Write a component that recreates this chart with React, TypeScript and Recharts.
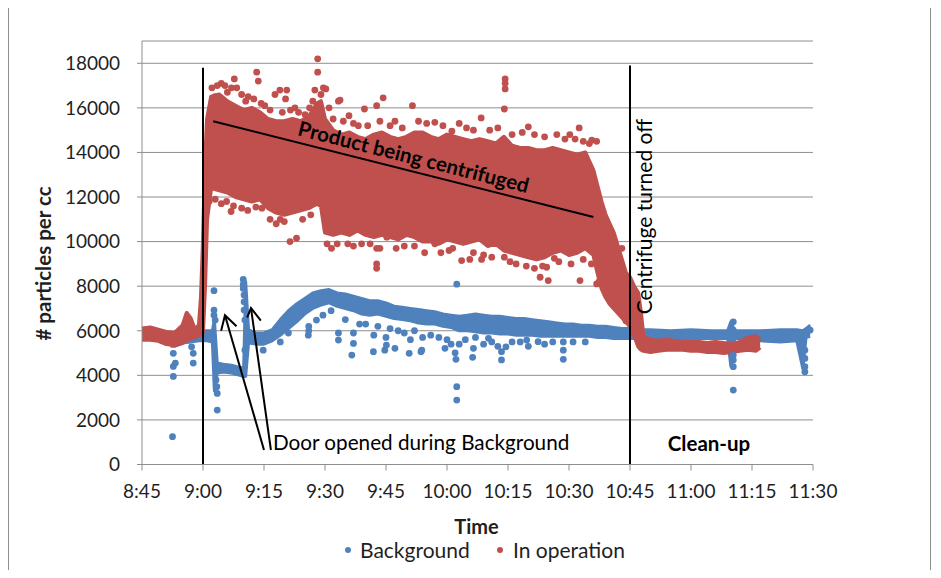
import React from "react";
import {
  ComposedChart,
  Area,
  Scatter,
  XAxis,
  YAxis,
  CartesianGrid,
  ReferenceLine,
  Legend
} from "recharts";

const FONT = "Lato, 'Open Sans', sans-serif";
const BLUE = "#4F81BD";
const RED = "#C0504D";
const GRID = "#8E8E8E";
const INK = "#1f1f1f";

// times are minutes after midnight (525 = 8:45, 690 = 11:30)
const timeTicks = [525, 540, 555, 570, 585, 600, 615, 630, 645, 660, 675, 690];
const countTicks = [0, 2000, 4000, 6000, 8000, 10000, 12000, 14000, 16000, 18000];

// "In operation": envelope holding the bulk of the readings
const opTimes = [
  525, 527, 529, 531, 533, 535, 536, 537, 538, 539, 539.5, 540, 540.5, 541, 542, 544, 546, 548, 550, 552,
  554, 556, 558, 560, 562, 564, 566, 568, 569, 570, 572, 574, 576, 578, 580, 582, 584, 586, 588, 590,
  592, 594, 596, 598, 600, 602, 604, 606, 608, 610, 612, 614, 616, 618, 620, 622, 624, 626, 628, 630,
  632, 634, 636, 637, 638, 639, 640, 641, 642, 643, 644, 645, 646, 647, 647.7, 648.3, 650, 652, 654, 656,
  658, 660, 662, 664, 666, 668, 670, 672, 674, 676, 677
];
const opLow = [
  5600, 5600, 5550, 5400, 5350, 5450, 5600, 5650, 5700, 5800, 5850, 5950, 8000, 11000, 12400, 12300, 12200, 12000, 11900, 11800,
  11900, 11500, 11300, 11200, 11300, 11400, 11500, 11700, 11600, 10400, 10300, 10400, 10300, 10500, 10300, 10200, 10300, 10200, 10100, 10300,
  10200, 10000, 10000, 9900, 10100, 10000, 9900, 10000, 10100, 9800, 9900, 9600, 9500, 9400, 9300, 9200, 9300, 9500, 9600, 9400,
  9500, 9700, 9400, 8600, 7900, 7500, 7200, 7000, 6800, 6600, 6400, 6200, 5800, 5300, 5150, 5100, 5050, 5100, 5150, 5150,
  5150, 5100, 5100, 5050, 5050, 5000, 5050, 5100, 5150, 5100, 5250
];
const opHigh = [
  6100, 6150, 6050, 5950, 5900, 6250, 6800, 6550, 6050, 6250, 7500, 10000, 13500, 15500, 16500, 16600, 16300, 16100, 15900, 16000,
  15800, 15500, 15400, 15400, 15500, 15400, 15600, 16200, 16300, 15500, 15000, 14800, 14900, 14700, 14600, 14800, 14900, 14700, 14600, 14700,
  14900, 14900, 14700, 14600, 14800, 14700, 14600, 14500, 14600, 14500, 14400, 14700, 14300, 14200, 14200, 14100, 14100, 14200, 14100, 14000,
  13900, 14000, 13200, 12500, 11800, 11200, 10800, 10400, 9800, 9200, 8600, 8400, 8000, 7700, 6800, 5750, 5600, 5550, 5600, 5550,
  5500, 5500, 5500, 5450, 5500, 5450, 5400, 5500, 5700, 5750, 5550
];

// "Background": envelope holding the bulk of the readings
const bgTimes = [
  532, 533, 535, 537, 539, 541, 542.3, 542.8, 543.5, 545, 547, 549, 550, 550.5, 551.2, 553, 555, 557, 559, 561,
  563, 565, 567, 569, 571, 573, 575, 577, 579, 581, 583, 585, 587, 589, 591, 593, 595, 597, 599, 601,
  603, 605, 607, 609, 611, 613, 615, 617, 619, 621, 623, 625, 627, 629, 631, 633, 635, 637, 639, 641,
  643, 645, 647, 650, 655, 660, 665, 669, 669.8, 670.8, 672, 677, 682, 686, 687.5, 688.3, 689.3
];
const bgLow = [
  5300, 5300, 5450, 5500, 5550, 5550, 5500, 3300, 4100, 4150, 4100, 4000, 3950, 3950, 5450, 5400, 5400, 5550, 5800, 6100,
  6400, 6750, 7000, 7150, 7250, 7100, 7000, 6900, 6750, 6700, 6750, 6650, 6550, 6500, 6450, 6350, 6300, 6300, 6200, 6150,
  6000, 6000, 5950, 5900, 5900, 5850, 5850, 5800, 5800, 5800, 5750, 5750, 5750, 5750, 5750, 5750, 5750, 5700, 5700, 5650,
  5650, 5650, 5650, 5650, 5650, 5650, 5650, 5650, 4400, 5650, 5650, 5550, 5500, 5550, 4300, 5700, 5750
];
const bgHigh = [
  5700, 5750, 5900, 5950, 6000, 6000, 6000, 6500, 4550, 4500, 4450, 4350, 4350, 8200, 6050, 5900, 5900, 6050, 6500, 6900,
  7200, 7450, 7700, 7800, 7850, 7700, 7650, 7550, 7450, 7350, 7350, 7250, 7100, 7050, 7000, 6950, 6900, 6850, 6750, 6700,
  6650, 6700, 6750, 6700, 6650, 6650, 6600, 6550, 6550, 6500, 6450, 6400, 6350, 6300, 6300, 6250, 6250, 6200, 6200, 6150,
  6100, 6100, 6050, 6050, 6000, 6050, 6000, 6000, 6400, 6000, 6000, 6000, 6050, 6050, 6000, 6100, 6250
];

// isolated "In operation" readings outside the envelope
const opDotTimes = [
  // upper fringe
  542.2, 543, 543.5, 544.5, 545.4, 546, 547, 547.7, 548.3, 549.5, 550.5, 551.1, 552.5, 553.2, 553.6, 554.3, 555.2, 556.5, 557.7, 558.9,
  559.5, 560.3, 560.6, 561.5, 562.6, 563.5, 565.1, 566.2, 567, 567.5, 568.2, 568.2, 569, 569.6, 570.2, 571, 572, 573.3, 573.7, 574.5,
  575.9, 577, 578.2, 579.7, 580.5, 582.7, 583.5, 584.3, 586, 587.2, 589, 591.5, 593, 595, 597, 599, 601.2, 603, 604.8, 606.5,
  608.4, 610.5, 612.5, 614.1, 614.3, 614.3, 614.3, 616, 618.5, 620, 621.5, 624, 627, 629, 630.2, 631.5, 632.5, 633.5, 635, 635.6,
  636.8,
  // lower fringe
  541.5, 543, 544.5, 545.8, 546.9, 547.5, 549.5, 551, 553, 554.5, 556.5, 558, 559, 560, 561.4, 563, 564.5, 566.5, 570.5, 571.6,
  573, 575.6, 577, 579, 581.1, 582.7, 582.7, 582.7, 583.5, 585.2, 587.5, 589.5, 592, 594.5, 597, 598.5, 600.5, 601.4, 603.6, 605.6,
  606.5, 608.5, 609, 611, 614.1, 615.5, 617, 619.5, 621.5, 622.9, 623.5, 624.5, 624.9, 626.4, 627.5, 630.5, 632.7, 633.5, 635.5, 636.8,
  637.4, 643, 644
];
const opDotValues = [
  16900, 16500, 17000, 17100, 17000, 16700, 16900, 17300, 16900, 16600, 16300, 16500, 16400, 17600, 17200, 16200, 16100, 15900, 16600, 16800,
  15800, 16400, 16800, 15900, 16000, 15800, 15700, 16000, 16300, 16800, 18200, 17600, 16600, 16900, 16850, 16000, 15500, 16300, 16350, 15400,
  15650, 15300, 15200, 15950, 15200, 16100, 15400, 16450, 15200, 15400, 15100, 16100, 15400, 15300, 15350, 15200, 14950, 15300, 15100, 15000,
  15550, 15000, 15100, 15950, 17300, 17100, 16850, 14800, 14900, 15150, 14800, 14700, 14800, 14600, 14800, 14600, 15100, 14500, 14400, 14550,
  14500,
  11800, 11900, 11700, 11800, 11350, 11600, 11500, 11400, 11550, 11500, 11000, 10800, 11000, 10900, 10000, 10150, 11000, 11200, 9900, 9700,
  9900, 9900, 9800, 9900, 9900, 9700, 9000, 8800, 9700, 10200, 9700, 9800, 9800, 9500, 9900, 9500, 9600, 9700, 9150, 9200,
  9500, 9200, 9400, 9300, 9300, 9100, 9000, 8900, 8800, 8400, 8900, 8850, 8250, 9250, 9100, 9000, 8250, 9200, 9000, 8100,
  8200, 9700, 6450
];

// isolated "Background" readings outside the envelope
const bgDotTimes = [
  532.5, 532.7, 532.7, 532.7, 533.2, 537.2, 537.6, 537.6, 542.7, 542.7, 542.7, 543, 543.2, 543.4, 543.5, 543.5, 549.9, 549.9, 549.9, 550.1,
  550.1, 550.1, 550.3, 550.3, 554.8, 559, 561, 565.9, 566, 566, 567.9, 569.5, 571.5, 573.3, 573.3, 575, 576.6, 577, 577, 578.5,
  580, 581.9, 582, 583, 584.7, 585, 585.1, 586, 587.2, 588, 589.5, 590.7, 591, 592, 593.6, 593.8, 594, 596, 598, 599.5,
  600, 601, 602, 602.2, 602.4, 602.4, 602.4, 603, 604.5, 606.3, 606.5, 607, 609, 610.2, 611, 612.5, 613.4, 613.4, 614.5, 616,
  618, 619.6, 620, 622.4, 624, 626, 628.6, 628.6, 628.6, 631, 634, 670.4, 670.4, 670.4, 670.4, 670.4, 670.4, 688, 688, 688,
  688, 689.3
];
const bgDotValues = [
  1250, 4990, 4400, 3950, 4550, 5280, 4990, 4550, 7800, 6930, 6700, 6480, 3790, 3490, 3190, 2440, 8300, 8080, 7900, 7600,
  7300, 6930, 6480, 5130, 5130, 5500, 5900, 5800, 6200, 6000, 6480, 6700, 6900, 5580, 5900, 6500, 4910, 5430, 5900, 6300,
  6300, 5060, 5800, 6200, 5130, 5700, 5360, 6100, 5210, 6000, 5900, 4990, 5600, 6000, 5060, 5130, 5700, 5800, 5700, 5210,
  5600, 5400, 5010, 4720, 3490, 2890, 8090, 5400, 5600, 4810, 5210, 5700, 5400, 5660, 5500, 5300, 4690, 5060, 5280, 5500,
  5500, 5580, 5300, 5510, 5400, 5500, 5130, 4720, 5500, 5500, 5500, 6400, 6030, 4910, 4690, 4390, 3340, 5130, 4760, 4390,
  4160, 6030
];

// annotation anchors, in (time, count)
const centrifugeOn = 540;
const centrifugeOff = 645;
const trend = [{ x: 542.5, y: 15400 }, { x: 636, y: 11100 }];
const doorArrows = [
  [{ x: 555, y: 650 }, { x: 545.4, y: 6700 }],
  [{ x: 556.7, y: 650 }, { x: 551.8, y: 7020 }]
];

type Row = { t: number; bg?: [number, number]; op?: [number, number] };

const bandRows: Row[] = [
  ...bgTimes.map((t, i) => ({ t, bg: [bgLow[i], bgHigh[i]] as [number, number] })),
  ...opTimes.map((t, i) => ({ t, op: [opLow[i], opHigh[i]] as [number, number] }))
].sort((a, b) => a.t - b.t);

const opDots = opDotTimes.map((t, i) => ({ t, v: opDotValues[i] }));
const bgDots = bgDotTimes.map((t, i) => ({ t, v: bgDotValues[i] }));

const clock = (m: number) => `${Math.floor(m / 60)}:${String(m % 60).padStart(2, "0")}`;

const dot = (fill: string) => (p: any) => <circle cx={p.cx} cy={p.cy} r={3.4} fill={fill} />;

const ArrowLine = (p: any) => {
  const { x1, y1, x2, y2 } = p;
  const back = Math.atan2(y1 - y2, x1 - x2);
  const len = 16;
  const spread = Math.PI / 6;
  const ax = x2 + len * Math.cos(back - spread);
  const ay = y2 + len * Math.sin(back - spread);
  const bx = x2 + len * Math.cos(back + spread);
  const by = y2 + len * Math.sin(back + spread);
  return (
    <g>
      <line x1={x1} y1={y1} x2={x2} y2={y2} stroke="#000" strokeWidth={2} />
      <polyline points={`${ax},${ay} ${x2},${y2} ${bx},${by}`} fill="none" stroke="#000" strokeWidth={2} />
    </g>
  );
};

const TrendCaption = ({ viewBox }: any) => {
  const { x, y, width, height } = viewBox;
  const angle = (Math.atan2(height, width) * 180) / Math.PI;
  return (
    <g transform={`translate(${x + width / 2},${y + height / 2}) rotate(${angle})`}>
      <text x={7} y={-7} textAnchor="middle" fontFamily={FONT} fontWeight={700} fontSize={20.5} fill="#000">
        Product being centrifuged
      </text>
    </g>
  );
};

const OffCaption = ({ viewBox }: any) => {
  const { x, y, height } = viewBox;
  return (
    <g>
      <g transform={`translate(${x + 22},${y + 151}) rotate(-90)`}>
        <text textAnchor="middle" fontFamily={FONT} fontSize={21} fill="#000">
          Centrifuge turned off
        </text>
      </g>
      <text x={x + 79} y={y + height - 13.5} textAnchor="middle" fontFamily={FONT} fontWeight={700} fontSize={20.5} fill="#000">
        Clean-up
      </text>
    </g>
  );
};

const DoorCaption = ({ viewBox }: any) => {
  const { x, y, width, height } = viewBox;
  return (
    <text x={x + width + 2} y={y + height} fontFamily={FONT} fontSize={20.7} fill="#000">
      Door opened during Background
    </text>
  );
};

const TimeTitle = ({ viewBox }: any) => (
  <text x={viewBox.x + viewBox.width / 2 - 1} y={viewBox.y + 69.5} textAnchor="middle" fontFamily={FONT} fontWeight={700} fontSize={20} fill={INK}>
    Time
  </text>
);

const CountTitle = ({ viewBox }: any) => (
  <g transform={`translate(${viewBox.x + 31},263.5) rotate(-90)`}>
    <text textAnchor="middle" fontFamily={FONT} fontWeight={700} fontSize={20.5} fill={INK}>
      # particles per cc
    </text>
  </g>
);

const LegendRow = () => (
  <div style={{ position: "relative", height: 22, fontFamily: FONT, fontSize: 21, color: INK, lineHeight: "22px" }}>
    <span style={{ position: "absolute", left: 345, top: 8, width: 6, height: 6, borderRadius: 3, background: BLUE }} />
    <span style={{ position: "absolute", left: 360, top: 0 }}>Background</span>
    <span style={{ position: "absolute", left: 497, top: 8, width: 6, height: 6, borderRadius: 3, background: RED }} />
    <span style={{ position: "absolute", left: 513, top: 0 }}>In operation</span>
  </div>
);

const tickStyle = { fontSize: 19, fill: INK, fontFamily: FONT };

export default function App() {
  return (
    <div style={{ position: "relative", width: 941, height: 578, margin: -8, background: "#fff", overflow: "hidden" }}>
      <div
        style={{
          position: "absolute",
          left: 8,
          top: -2,
          width: 923,
          height: 579,
          border: "1px solid #8E8E8E",
          boxSizing: "border-box"
        }}
      />
      <ComposedChart
        width={941}
        height={578}
        data={bandRows}
        margin={{ top: 41, right: 128, bottom: 11.5, left: 20 }}
        style={{ position: "absolute", left: 0, top: 0 }}
      >
        <CartesianGrid vertical={false} stroke={GRID} />
        <XAxis
          type="number"
          dataKey="t"
          domain={[525, 690]}
          ticks={timeTicks}
          tickFormatter={clock}
          tick={tickStyle}
          tickSize={6}
          tickMargin={14}
          stroke={GRID}
          height={80}
          label={TimeTitle}
        />
        <YAxis
          type="number"
          domain={[0, 19000]}
          ticks={countTicks}
          tick={tickStyle}
          tickSize={5}
          tickMargin={17}
          stroke={GRID}
          width={122}
          label={CountTitle}
        />
        <Area
          dataKey="bg"
          type="linear"
          connectNulls
          fill={BLUE}
          fillOpacity={1}
          stroke={BLUE}
          strokeWidth={3}
          strokeLinejoin="round"
          dot={false}
          activeDot={false}
          legendType="none"
          isAnimationActive={false}
        />
        <Scatter name="Background" data={bgDots} dataKey="v" fill={BLUE} shape={dot(BLUE)} isAnimationActive={false} />
        <Area
          dataKey="op"
          type="linear"
          connectNulls
          fill={RED}
          fillOpacity={1}
          stroke={RED}
          strokeWidth={4}
          strokeLinejoin="round"
          dot={false}
          activeDot={false}
          legendType="none"
          isAnimationActive={false}
        />
        <Scatter name="In operation" data={opDots} dataKey="v" fill={RED} shape={dot(RED)} isAnimationActive={false} />
        <ReferenceLine segment={[{ x: centrifugeOn, y: 0 }, { x: centrifugeOn, y: 17800 }]} stroke="#000" strokeWidth={2} />
        <ReferenceLine
          segment={[{ x: centrifugeOff, y: 0 }, { x: centrifugeOff, y: 17900 }]}
          stroke="#000"
          strokeWidth={2}
          label={OffCaption}
        />
        <ReferenceLine segment={trend} stroke="#000" strokeWidth={2} label={TrendCaption} />
        <ReferenceLine segment={doorArrows[0]} shape={ArrowLine} />
        <ReferenceLine segment={doorArrows[1]} shape={ArrowLine} label={DoorCaption} />
        <Legend content={LegendRow} wrapperStyle={{ left: 0, top: 539, bottom: "auto", width: 941, height: 22 }} />
      </ComposedChart>
    </div>
  );
}
